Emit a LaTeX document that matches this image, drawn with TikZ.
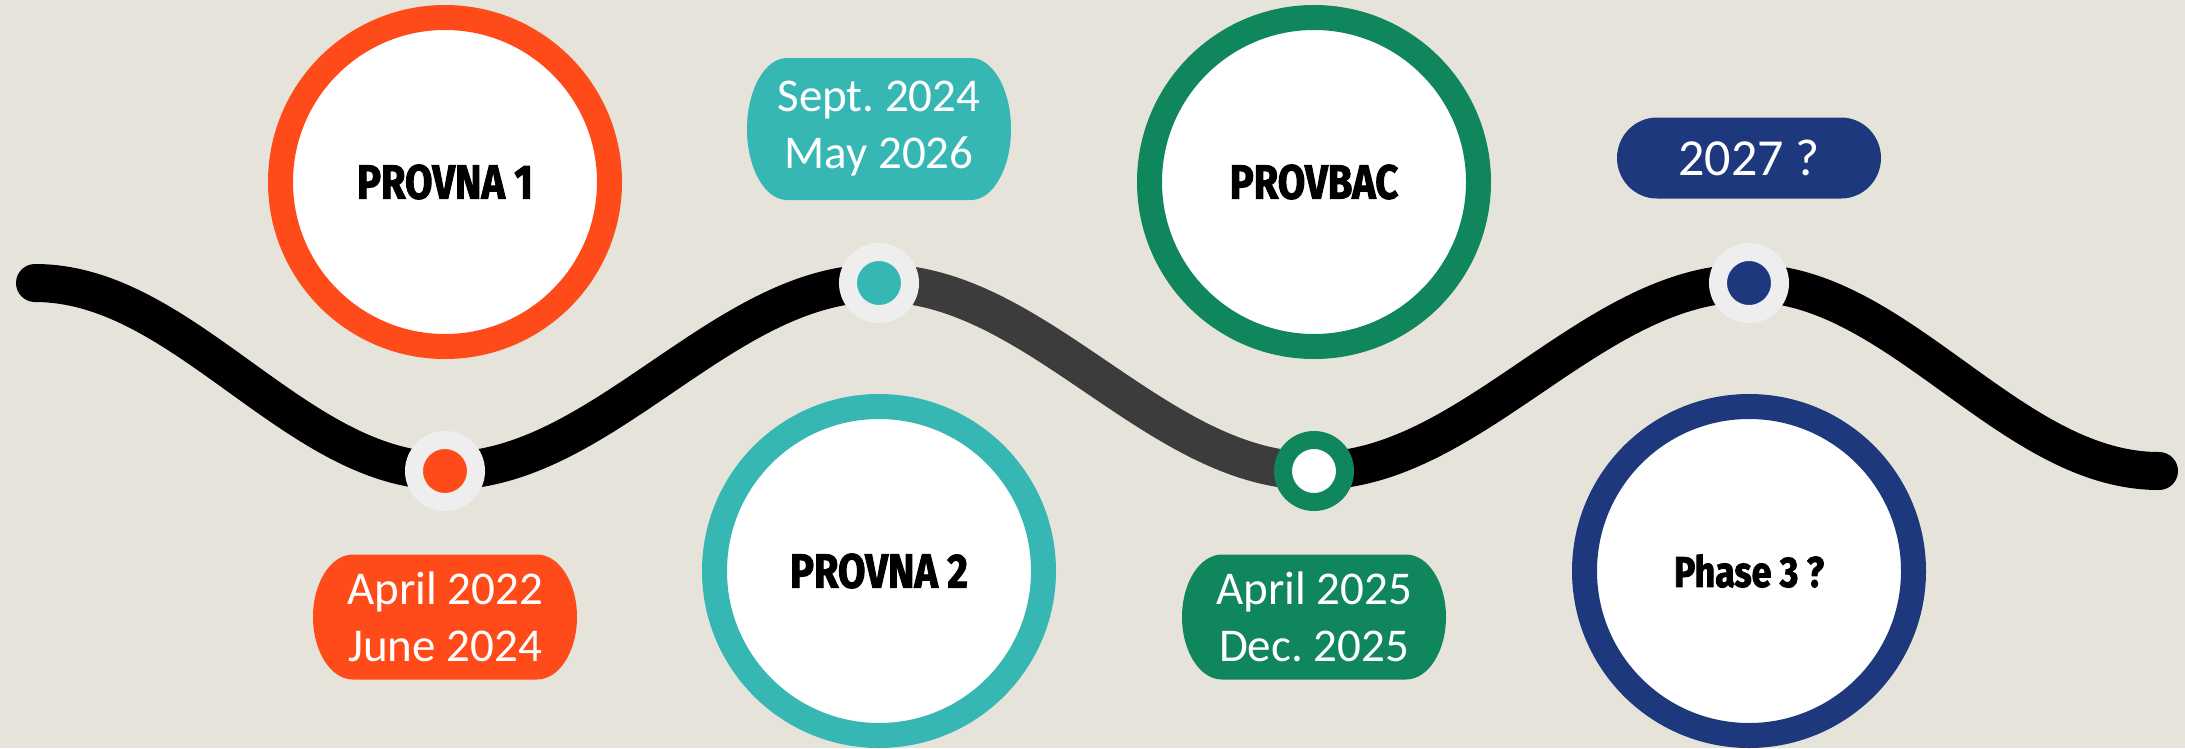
\documentclass[tikz,border=0pt]{standalone}
\usepackage{fontspec}
\setmainfont{Carlito}
\newfontfamily\titlefont[FakeStretch=0.83, FakeBold=2]{Fira Sans}
\usetikzlibrary{calc}

\definecolor{bgbeige}{HTML}{E6E4DA}
\definecolor{pOrange}{HTML}{FF4B19}
\definecolor{pTeal}{HTML}{37B7B4}
\definecolor{pGreen}{HTML}{0F865C}
\definecolor{pNavy}{HTML}{1D387C}
\definecolor{ringGrey}{HTML}{EEEEEE}
\definecolor{wireGrey}{HTML}{3C3C3C}

\pgfdeclarelayer{backdrop}
\pgfdeclarelayer{trackline}
\pgfsetlayers{backdrop,trackline,main}

\begin{document}
\frenchspacing
\begin{tikzpicture}[x=1pt,y=-1pt,
  phase/.style={circle, draw=#1, line width=25pt, fill=white,
    minimum size=329pt, inner sep=0pt, text=black,
    font=\titlefont\bfseries\fontsize{48pt}{56pt}\selectfont},
  stop/.style 2 args={circle, draw=#1, fill=#2, line width=18pt,
    minimum size=62pt, inner sep=0pt},
  pill/.style 2 args={minimum width=264pt, minimum height=#2, inner sep=0pt,
    fill=bgbeige, text=white, align=center,
    font=\fontsize{47pt}{57pt}\selectfont,
    path picture={\fill[#1]
      ([xshift=40pt]path picture bounding box.north west) --
      ([xshift=-40pt]path picture bounding box.north east)
      arc[start angle=90, end angle=-90, x radius=40pt, y radius=0.5*#2] --
      ([xshift=40pt]path picture bounding box.south west)
      arc[start angle=270, end angle=90, x radius=40pt, y radius=0.5*#2] -- cycle;}},
  roadline/.style={line width=38pt, line cap=round, line join=round, draw=#1},
  roadline/.default=black]

% canvas
\begin{pgfonlayer}{backdrop}
  \fill[bgbeige] (0,0) rectangle (2185,748);
\end{pgfonlayer}
\useasboundingbox (0,0) rectangle (2185,748);

% project circles
\node[phase=pOrange] (provna1) at (445,182) {PROVNA 1};
\node[phase=pTeal]   (provna2) at (879,571) {PROVNA 2};
\node[phase=pGreen]  (provbac) at (1314,182) {PROVBAC};
\node[phase=pNavy, font=\titlefont\bfseries\fontsize{43pt}{50pt}\selectfont]
  (phase3) at (1749,571) {Phase 3 ?};

% milestones on the timeline
\node[stop={ringGrey}{pOrange}] (d1) at (445,471) {};
\node[stop={ringGrey}{pTeal}]   (d2) at (879,283) {};
\node[stop={pGreen}{white}]     (d3) at (1314,471) {};
\node[stop={ringGrey}{pNavy}]   (d4) at (1749,283) {};

% date labels
\node[pill={pOrange}{125pt}] (date1) at (445,617) {April 2022\\June 2024};
\node[pill={pTeal}{142pt}]   (date2) at (879,129) {Sept. 2024\\May 2026};
\node[pill={pGreen}{125pt}]  (date3) at (1314,617) {April 2025\\Dec. 2025};
\node[pill={pNavy}{81pt}, font=\fontsize{52pt}{60pt}\selectfont]
  (date4) at (1749,158) {2027 ?};

% ends of the timeline
\coordinate (start) at (35,283);
\coordinate (finish) at (2159,471);

% the wavy timeline
\begin{pgfonlayer}{trackline}
  \draw[roadline] (start) cos ($(start)!0.5!(d1)$) sin (d1.center)
    cos ($(d1)!0.5!(d2)$) sin (d2.center);
  \draw[roadline=wireGrey] (d2.center) cos ($(d2)!0.5!(d3)$) sin (d3.center);
  \draw[roadline] (d3.center) cos ($(d3)!0.5!(d4)$) sin (d4.center)
    cos ($(d4)!0.5!(finish)$) sin (finish);
\end{pgfonlayer}
\end{tikzpicture}
\end{document}
